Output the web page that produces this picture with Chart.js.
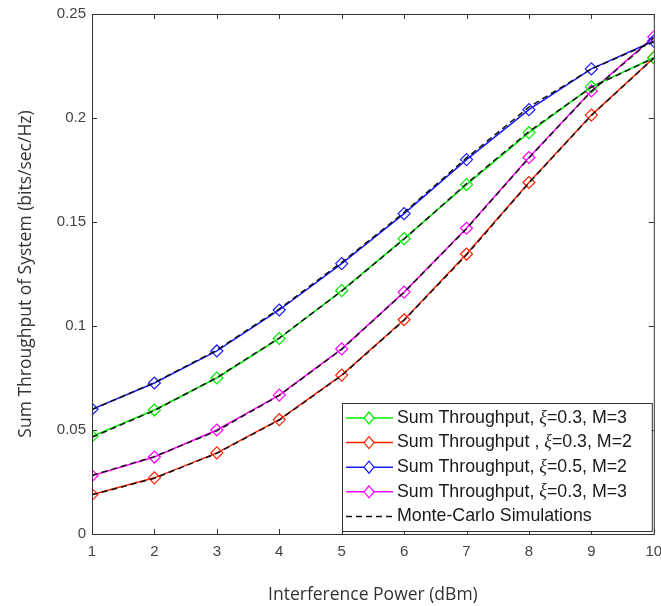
<!DOCTYPE html>
<html>
<head>
<meta charset="utf-8">
<title>Sum Throughput vs Interference Power</title>
<script src="https://cdn.jsdelivr.net/npm/chart.js@4.4.1/dist/chart.umd.min.js"></script>
<style>
    html, body { margin: 0; padding: 0; background: #fff; }
    #wrap { width: 661px; height: 606px; position: relative; }
</style>
</head>
<body>
<div id="wrap"><canvas id="chart"></canvas></div>
<script>
// Data
const powerDbm = [1, 2, 3, 4, 5, 6, 7, 8, 9, 10];
const yTicks = [0, 0.05, 0.1, 0.15, 0.2, 0.25];

const greenXi03M3 = [0.047, 0.0596, 0.075, 0.094, 0.117, 0.142, 0.168, 0.193, 0.215, 0.229];
const redXi03M2 = [0.019, 0.027, 0.039, 0.055, 0.0764, 0.103, 0.1346, 0.169, 0.2014, 0.229];
const blueXi05M2 = [0.060, 0.0726, 0.088, 0.1077, 0.130, 0.154, 0.180, 0.204, 0.2236, 0.237];
const magentaXi03M3 = [0.028, 0.037, 0.050, 0.0668, 0.089, 0.1163, 0.147, 0.181, 0.213, 0.239];

// Monte-Carlo runs sit right on top of the analytic curves
const mcGreen = [0.0465, 0.0594, 0.0752, 0.0942, 0.1168, 0.1418, 0.1684, 0.1935, 0.2148, 0.2288];
const mcRed = [0.0188, 0.0268, 0.0388, 0.0548, 0.0762, 0.1028, 0.1342, 0.1688, 0.2012, 0.2288];
const mcBlue = [0.0598, 0.0728, 0.0884, 0.1082, 0.1306, 0.1546, 0.1808, 0.2052, 0.2236, 0.2366];
const mcMagenta = [0.0282, 0.0372, 0.0496, 0.0666, 0.0888, 0.1162, 0.1468, 0.1808, 0.2128, 0.2386];

const seriesLabels = [
    'Sum Throughput, ξ=0.3, M=3',
    'Sum Throughput , ξ=0.3, M=2',
    'Sum Throughput, ξ=0.5, M=2',
    'Sum Throughput, ξ=0.3, M=3'
];
const seriesColors = ['#00ee00', '#ff2200', '#1a1aff', '#ff00ff'];
const mcLabel = 'Monte-Carlo Simulations';

const toPoints = (ys) => powerDbm.map((x, i) => ({ x, y: ys[i] }));

function curve(label, ys, color) {
    return {
        label,
        data: toPoints(ys),
        borderColor: color,
        backgroundColor: 'rgba(0,0,0,0)',
        borderWidth: 1.5,
        pointStyle: 'rectRot',
        pointRadius: 6,
        pointBorderWidth: 1.2,
        pointBorderColor: color,
        pointBackgroundColor: 'rgba(0,0,0,0)',
        tension: 0,
        order: 1
    };
}

function mcCurve(ys) {
    return {
        label: mcLabel,
        data: toPoints(ys),
        borderColor: '#111',
        borderWidth: 1.5,
        borderDash: [6, 4],
        pointRadius: 0,
        tension: 0,
        order: 0,
        isMc: true
    };
}

// Box round the plot with small inward ticks on all four sides
const frameTicks = {
    id: 'frameTicks',
    afterDraw(chart) {
        const { ctx, chartArea: a, scales } = chart;
        ctx.save();
        ctx.strokeStyle = '#333';
        ctx.lineWidth = 1;
        ctx.strokeRect(a.left + 0.5, a.top + 0.5, a.right - a.left, a.bottom - a.top);
        const len = 5;
        ctx.beginPath();
        powerDbm.forEach(v => {
            const x = Math.round(scales.x.getPixelForValue(v)) + 0.5;
            ctx.moveTo(x, a.bottom); ctx.lineTo(x, a.bottom - len);
            ctx.moveTo(x, a.top); ctx.lineTo(x, a.top + len);
        });
        yTicks.forEach(v => {
            const y = Math.round(scales.y.getPixelForValue(v)) + 0.5;
            ctx.moveTo(a.left, y); ctx.lineTo(a.left + len, y);
            ctx.moveTo(a.right, y); ctx.lineTo(a.right - len, y);
        });
        ctx.stroke();
        ctx.restore();
    }
};

// Legend drawn inside the plot, bottom right, MATLAB style
const boxLegend = {
    id: 'boxLegend',
    afterDraw(chart) {
        const { ctx, chartArea: a } = chart;
        const items = chart.data.datasets.filter(d => !d.isMc);
        const left = 342, top = 403, right = a.right - 2, bottom = a.bottom - 3;
        const rowH = 24.6;
        ctx.save();
        ctx.fillStyle = '#fff';
        ctx.fillRect(left, top, right - left, bottom - top);
        ctx.strokeStyle = '#333';
        ctx.lineWidth = 1;
        ctx.strokeRect(left + 0.5, top + 0.5, right - left, bottom - top);

        const font = '17.8px "Liberation Sans", Arial, sans-serif';
        const italic = 'italic 17.8px "Liberation Serif", serif';
        ctx.textBaseline = 'middle';
        const drawRow = (i, label, draw) => {
            const y = top + 15 + i * rowH;
            draw(y);
            const parts = label.split('ξ');
            let x = 397;
            ctx.fillStyle = '#1a1a1a';
            ctx.font = font;
            ctx.fillText(parts[0], x, y);
            x += ctx.measureText(parts[0]).width;
            if (parts.length > 1) {
                ctx.font = italic;
                ctx.fillText('ξ', x, y);
                x += ctx.measureText('ξ').width;
                ctx.font = font;
                ctx.fillText(parts[1], x, y);
            }
        };
        items.forEach((d, i) => {
            drawRow(i, d.label, (y) => {
                ctx.strokeStyle = d.borderColor;
                ctx.lineWidth = 1.5;
                ctx.beginPath();
                ctx.moveTo(346, y); ctx.lineTo(393, y);
                ctx.stroke();
                ctx.lineWidth = 1.2;
                ctx.beginPath();
                ctx.moveTo(369, y - 6); ctx.lineTo(374, y);
                ctx.lineTo(369, y + 6); ctx.lineTo(364, y);
                ctx.closePath();
                ctx.fillStyle = '#fff';
                ctx.fill();
                ctx.stroke();
            });
        });
        drawRow(items.length, mcLabel, (y) => {
            ctx.strokeStyle = '#111';
            ctx.lineWidth = 1.5;
            ctx.setLineDash([6, 4]);
            ctx.beginPath();
            ctx.moveTo(346, y); ctx.lineTo(393, y);
            ctx.stroke();
            ctx.setLineDash([]);
        });
        ctx.restore();
    }
};

const tickFont = { family: '"Liberation Sans", Arial, sans-serif', size: 15 };
const titleFont = { family: '"Open Sans", "Noto Sans", sans-serif', size: 17.5 };

new Chart(document.getElementById('chart'), {
    type: 'line',
    data: {
        datasets: [
            curve(seriesLabels[0], greenXi03M3, seriesColors[0]),
            curve(seriesLabels[1], redXi03M2, seriesColors[1]),
            curve(seriesLabels[2], blueXi05M2, seriesColors[2]),
            curve(seriesLabels[3], magentaXi03M3, seriesColors[3]),
            mcCurve(mcGreen),
            mcCurve(mcRed),
            mcCurve(mcBlue),
            mcCurve(mcMagenta)
        ]
    },
    options: {
        responsive: true,
        maintainAspectRatio: false,
        animation: false,
        layout: { padding: { top: 14, right: 6, left: 0, bottom: 0 } },
        plugins: { legend: { display: false }, tooltip: { enabled: false } },
        scales: {
            x: {
                type: 'linear',
                min: 1,
                max: 10,
                afterBuildTicks(scale) { scale.ticks = powerDbm.map(v => ({ value: v })); },
                afterFit(scale) {
                    scale.height = 72;
                    scale.paddingLeft = 0;
                    scale.paddingRight = 0;
                },
                grid: { display: false, drawTicks: false },
                border: { display: false },
                ticks: { font: tickFont, color: '#444', padding: 9, maxRotation: 0 },
                title: {
                    display: true,
                    text: 'Interference Power (dBm)',
                    font: titleFont,
                    color: '#333',
                    padding: { top: 0, bottom: 0 }
                }
            },
            y: {
                min: 0,
                max: 0.25,
                afterBuildTicks(scale) { scale.ticks = yTicks.map(v => ({ value: v })); },
                afterFit(scale) {
                    scale.width = 92;
                    scale.paddingTop = 0;
                    scale.paddingBottom = 0;
                },
                grid: { display: false, drawTicks: false },
                border: { display: false },
                ticks: {
                    font: tickFont,
                    color: '#444',
                    padding: 6,
                    callback: (v) => String(+Number(v).toFixed(2))
                },
                title: {
                    display: true,
                    text: 'Sum Throughput of System (bits/sec/Hz)',
                    font: titleFont,
                    color: '#333',
                    padding: { top: 16, bottom: 0 }
                }
            }
        }
    },
    plugins: [frameTicks, boxLegend]
});
</script>
</body>
</html>
